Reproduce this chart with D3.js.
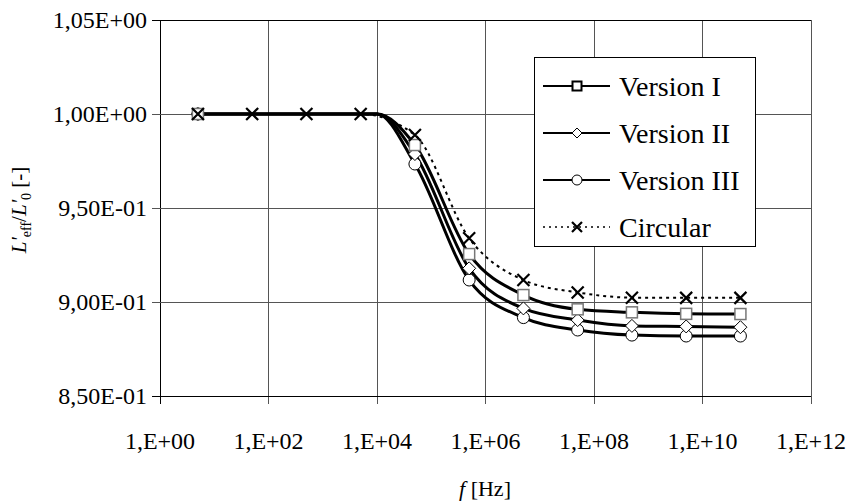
<!DOCTYPE html>
<html>
<head>
<meta charset="utf-8">
<script src="https://cdn.jsdelivr.net/npm/d3@7"></script>
<style>
  body { margin: 0; background: #fff; }
</style>
</head>
<body>
<div id="chart"></div>
<script>
// frequencies [Hz]
var freqCircular = [5, 50, 500, 5000, 5e4, 5e5, 5e6, 5e7, 5e8, 5e9, 5e10];
var freqVersions = [5, 1e4, 5e4, 5e5, 5e6, 5e7, 5e8, 5e9, 5e10];
// points shown without marker
var hiddenMarkerFreq = [1e4];

var versionI   = [1, 1, 0.9835, 0.9255, 0.9037, 0.8961, 0.8945, 0.8937, 0.8936];
var versionII  = [1, 1, 0.9787, 0.9179, 0.8966, 0.8904, 0.8873, 0.8870, 0.8866];
var versionIII = [1, 1, 0.9734, 0.9117, 0.8917, 0.8851, 0.8824, 0.8819, 0.8819];
var circular   = [1, 1, 1, 1, 0.9888, 0.9339, 0.9117, 0.9051, 0.9023, 0.9022, 0.9022];

var seriesNames = ["Version I", "Version II", "Version III", "Circular"];
var xTicks = [1, 1e2, 1e4, 1e6, 1e8, 1e10, 1e12];
var xTickLabels = ["1,E+00", "1,E+02", "1,E+04", "1,E+06", "1,E+08", "1,E+10", "1,E+12"];
var yTicks = [0.85, 0.90, 0.95, 1.00, 1.05];
var yTickLabels = ["8,50E-01", "9,00E-01", "9,50E-01", "1,00E+00", "1,05E+00"];

var width = 851, height = 504;
var plot = {left: 160, right: 811, top: 20, bottom: 396};
var fontFam = "'Liberation Serif', 'Times New Roman', serif";

var svg = d3.select("#chart").append("svg")
  .attr("width", width)
  .attr("height", height);

var x = d3.scaleLog().domain([1, 1e12]).range([plot.left, plot.right]);
var y = d3.scaleLinear().domain([0.85, 1.05]).range([plot.bottom, plot.top]);

// grid
svg.append("g").selectAll("line")
  .data(xTicks)
  .enter().append("line")
  .attr("x1", function(d) { return x(d); })
  .attr("x2", function(d) { return x(d); })
  .attr("y1", plot.top)
  .attr("y2", plot.bottom + 8)
  .attr("stroke", function(d, i) { return i == 0 ? "#000" : "#555"; })
  .attr("stroke-width", 1)
  .attr("shape-rendering", "crispEdges");

svg.append("g").selectAll("line")
  .data(yTicks)
  .enter().append("line")
  .attr("x1", plot.left - 8)
  .attr("x2", plot.right)
  .attr("y1", function(d) { return y(d); })
  .attr("y2", function(d) { return y(d); })
  .attr("stroke", function(d, i) { return (i == 0 || i == 4) ? "#000" : "#555"; })
  .attr("stroke-width", 1)
  .attr("shape-rendering", "crispEdges");

// tick labels
svg.append("g").selectAll("text")
  .data(xTicks)
  .enter().append("text")
  .attr("x", function(d) { return x(d); })
  .attr("y", 449)
  .attr("text-anchor", "middle")
  .style("font-family", fontFam)
  .style("font-size", "24px")
  .text(function(d, i) { return xTickLabels[i]; });

svg.append("g").selectAll("text")
  .data(yTicks)
  .enter().append("text")
  .attr("x", 147)
  .attr("y", function(d) { return y(d) + 8; })
  .attr("text-anchor", "end")
  .style("font-family", fontFam)
  .style("font-size", "24px")
  .text(function(d, i) { return yTickLabels[i]; });

// axis titles
var xt = svg.append("text")
  .attr("x", 485)
  .attr("y", 496)
  .attr("text-anchor", "middle")
  .style("font-family", fontFam)
  .style("font-size", "22px");
xt.append("tspan").style("font-style", "italic").text("f");
xt.append("tspan").text(" [Hz]");

var yt = svg.append("text")
  .attr("transform", "translate(26,210) rotate(-90)")
  .attr("text-anchor", "middle")
  .style("font-family", fontFam)
  .style("font-size", "21px");
yt.append("tspan").style("font-style", "italic").text("L'");
yt.append("tspan").attr("dy", 5).style("font-size", "14px").text("eff");
yt.append("tspan").attr("dy", -5).text("/");
yt.append("tspan").style("font-style", "italic").text("L'");
yt.append("tspan").attr("dy", 5).style("font-size", "14px").text("0");
yt.append("tspan").attr("dy", -5).text(" [-]");

// lines
var line = d3.line()
  .x(function(d) { return x(d[0]); })
  .y(function(d) { return y(d[1]); })
  .curve(d3.curveMonotoneX);

function pairs(fs, vs) {
  return fs.map(function(f, i) { return [f, vs[i]]; });
}

var data = [
  {name: seriesNames[0], pts: pairs(freqVersions, versionI), marker: "square"},
  {name: seriesNames[1], pts: pairs(freqVersions, versionII), marker: "diamond"},
  {name: seriesNames[2], pts: pairs(freqVersions, versionIII), marker: "circle"},
  {name: seriesNames[3], pts: pairs(freqCircular, circular), marker: "cross"}
];

function drawMarker(g, type, cx, cy, small) {
  if (type == "square") {
    var s = small ? 9 : 11;
    g.append("rect").attr("x", cx - s / 2).attr("y", cy - s / 2)
      .attr("width", s).attr("height", s)
      .attr("fill", "#fff").attr("stroke", small ? "#000" : "#777")
      .attr("stroke-width", small ? 2 : 1.5);
  } else if (type == "diamond") {
    var r = small ? 5 : 6.5;
    g.append("path")
      .attr("d", "M" + cx + "," + (cy - r) + "L" + (cx + r) + "," + cy + "L" + cx + "," + (cy + r) + "L" + (cx - r) + "," + cy + "Z")
      .attr("fill", "#fff").attr("stroke", "#000").attr("stroke-width", 1);
  } else if (type == "circle") {
    g.append("circle").attr("cx", cx).attr("cy", cy).attr("r", small ? 5 : 6)
      .attr("fill", "#fff").attr("stroke", "#000").attr("stroke-width", 1);
  } else {
    var k = small ? 5 : 6;
    g.append("path")
      .attr("d", "M" + (cx - k) + "," + (cy - k) + "L" + (cx + k) + "," + (cy + k) + "M" + (cx + k) + "," + (cy - k) + "L" + (cx - k) + "," + (cy + k))
      .attr("fill", "none").attr("stroke", "#000").attr("stroke-width", 2.2);
  }
}

var lines = svg.append("g");
// circular first (it lies under the versions on the flat part)
[3, 0, 1, 2].forEach(function(i) {
  var s = data[i];
  lines.append("path")
    .attr("d", line(s.pts))
    .attr("fill", "none")
    .attr("stroke", "#000")
    .attr("stroke-width", i == 3 ? 2 : 3)
    .attr("stroke-dasharray", i == 3 ? "3,4" : null);
});

var marks = svg.append("g");
[2, 1, 0, 3].forEach(function(i) {
  var s = data[i];
  s.pts.forEach(function(p) {
    if (hiddenMarkerFreq.indexOf(p[0]) >= 0) return;
    drawMarker(marks, s.marker, x(p[0]), y(p[1]), false);
  });
});

// legend
var lg = svg.append("g");
lg.append("rect")
  .attr("x", 534.5).attr("y", 57.5)
  .attr("width", 221).attr("height", 189)
  .attr("fill", "#fff").attr("stroke", "#000").attr("stroke-width", 1);

data.forEach(function(s, i) {
  var cy = 86 + i * 47;
  lg.append("line")
    .attr("x1", 543).attr("x2", 610)
    .attr("y1", cy).attr("y2", cy)
    .attr("stroke", "#000")
    .attr("stroke-width", i == 3 ? 1.5 : 2)
    .attr("stroke-dasharray", i == 3 ? "2,4" : null);
  drawMarker(lg, s.marker, 577, cy, true);
  lg.append("text")
    .attr("x", 619)
    .attr("y", cy + 10)
    .style("font-family", fontFam)
    .style("font-size", "28px")
    .text(s.name);
});
</script>
</body>
</html>
